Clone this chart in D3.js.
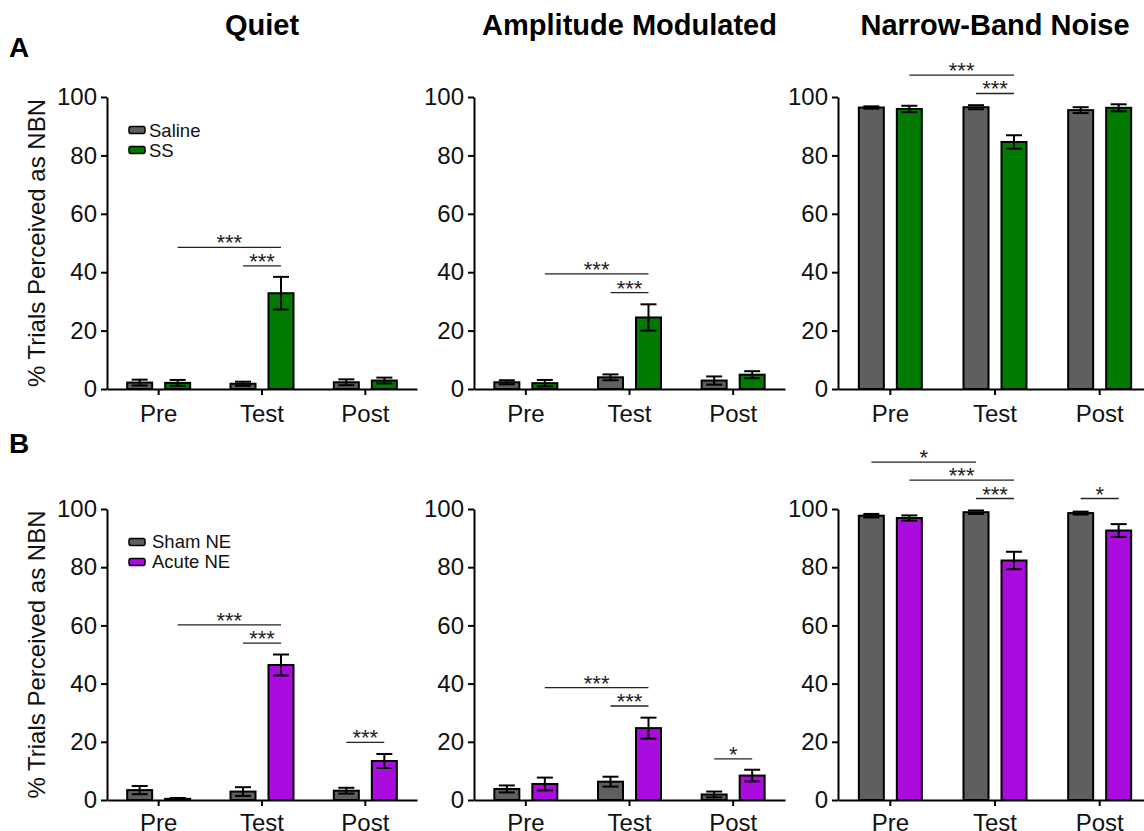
<!DOCTYPE html>
<html>
<head>
<meta charset="utf-8">
<script src="https://cdn.jsdelivr.net/npm/d3@7"></script>
<style>
  body { margin: 0; background: #fff; }
  svg { display: block; font-family: "Liberation Sans", Arial, sans-serif; }
</style>
</head>
<body>
<svg id="chart" width="1144" height="831"></svg>
<script>
// data
const categories = ["Pre", "Test", "Post"];
const conditions = ["Quiet", "Amplitude Modulated", "Narrow-Band Noise"];
const rowLabels = ["A", "B"];
const seriesA = ["Saline", "SS"];
const seriesB = ["Sham NE", "Acute NE"];
const yTicks = [0, 20, 40, 60, 80, 100];

// one inner array per condition (Quiet, AM, NBN), values per Pre/Test/Post
const salineMean = [[2.2, 1.8, 2.3], [2.3, 4.0, 2.9], [96.4, 96.5, 95.5]];
const salineErr = [[1.0, 0.7, 1.0], [0.7, 1.0, 1.4], [0.4, 0.7, 1.0]];
const ssMean = [[2.1, 32.8, 2.9], [2.0, 24.5, 4.9], [95.9, 84.6, 96.3]];
const ssErr = [[1.0, 5.6, 1.0], [1.1, 4.5, 1.2], [1.1, 2.3, 1.2]];

const shamMean = [[3.4, 2.9, 3.2], [3.8, 6.3, 1.9], [97.7, 98.9, 98.6]];
const shamErr = [[1.4, 1.5, 1.0], [1.2, 1.7, 1.0], [0.6, 0.6, 0.5]];
const acuteMean = [[0.4, 46.4, 13.4], [5.5, 24.7, 8.4], [96.9, 82.3, 92.6]];
const acuteErr = [[0.3, 3.6, 2.4], [2.2, 3.6, 2.0], [0.9, 3.0, 2.2]];

// significance brackets: [category, series] -> [category, series], height in % units
const sigA = [
  [{ from: [0, 1], to: [1, 1], level: 48.5, label: "***" },
   { from: [1, 0], to: [1, 1], level: 42.2, label: "***" }],
  [{ from: [0, 1], to: [1, 1], level: 39.4, label: "***" },
   { from: [1, 0], to: [1, 1], level: 33.0, label: "***" }],
  [{ from: [0, 1], to: [1, 1], level: 107.5, label: "***" },
   { from: [1, 0], to: [1, 1], level: 101.2, label: "***" }]
];
const sigB = [
  [{ from: [0, 1], to: [1, 1], level: 60.2, label: "***" },
   { from: [1, 0], to: [1, 1], level: 53.9, label: "***" },
   { from: [2, 0], to: [2, 1], level: 19.8, label: "***" }],
  [{ from: [0, 1], to: [1, 1], level: 38.6, label: "***" },
   { from: [1, 0], to: [1, 1], level: 32.3, label: "***" },
   { from: [2, 0], to: [2, 1], level: 14.1, label: "*" }],
  [{ from: [0, 0], to: [1, 0], level: 116.1, label: "*" },
   { from: [0, 1], to: [1, 1], level: 109.9, label: "***" },
   { from: [1, 0], to: [1, 1], level: 103.6, label: "***" },
   { from: [2, 0], to: [2, 1], level: 103.6, label: "*" }]
];

const gray = "#5f5f5f";
const green = "#007a00";
const purple = "#a90cdd";

// layout
const panelLeft = [107, 474, 838];
const panelWidth = [310, 311, 314];
const rowY = [[389, 97], [800, 509]]; // [y of 0, y of 100]
const xPad = [10, 8];
const barW = 25;
const barOffset = 19;
const capW = 16;

const svg = d3.select("#chart");

// column titles
svg.selectAll("text.title")
  .data(conditions)
  .join("text")
  .attr("class", "title")
  .attr("x", (d, i) => panelLeft[i] + panelWidth[i] / 2)
  .attr("y", 35)
  .attr("text-anchor", "middle")
  .style("font-weight", "bold")
  .style("font-size", "29px")
  .text((d) => d);

// row letters
svg.selectAll("text.rowlab")
  .data(rowLabels)
  .join("text")
  .attr("class", "rowlab")
  .attr("x", 9)
  .attr("y", (d, i) => (i === 0 ? 57 : 453))
  .style("font-weight", "bold")
  .style("font-size", "28px")
  .text((d) => d);

const rows = [
  { means: [salineMean, ssMean], errs: [salineErr, ssErr], colors: [gray, green], names: seriesA, sig: sigA },
  { means: [shamMean, acuteMean], errs: [shamErr, acuteErr], colors: [gray, purple], names: seriesB, sig: sigB }
];

rows.forEach((row, r) => {
  const y = d3.scaleLinear().domain([0, 100]).range(rowY[r]);

  conditions.forEach((cond, c) => {
    const g = svg.append("g");
    const x = d3.scaleBand()
      .domain(categories)
      .range([panelLeft[c], panelLeft[c] + panelWidth[c]])
      .padding(0);
    const xs = d3.scalePoint().domain([0, 1]).range([-barOffset, barOffset]);
    const cx = (ci, si) => x(categories[ci]) + x.bandwidth() / 2 + xs(si);

    // bars
    const bars = [];
    categories.forEach((cat, ci) => {
      [0, 1].forEach((si) => {
        bars.push({ ci, si, v: row.means[si][c][ci], e: row.errs[si][c][ci] });
      });
    });

    g.append("g")
      .selectAll("rect")
      .data(bars)
      .join("rect")
      .attr("x", (d) => cx(d.ci, d.si) - barW / 2)
      .attr("y", (d) => y(d.v))
      .attr("width", barW)
      .attr("height", (d) => y(0) - y(d.v))
      .attr("fill", (d) => row.colors[d.si])
      .attr("stroke", "#000")
      .attr("stroke-width", 2);

    // error bars
    const eb = g.append("g")
      .attr("stroke", "#000")
      .attr("stroke-width", 2)
      .selectAll("g")
      .data(bars)
      .join("g");
    eb.append("line")
      .attr("x1", (d) => cx(d.ci, d.si))
      .attr("x2", (d) => cx(d.ci, d.si))
      .attr("y1", (d) => y(d.v - d.e))
      .attr("y2", (d) => y(d.v + d.e));
    eb.append("line")
      .attr("x1", (d) => cx(d.ci, d.si) - capW / 2)
      .attr("x2", (d) => cx(d.ci, d.si) + capW / 2)
      .attr("y1", (d) => y(d.v + d.e))
      .attr("y2", (d) => y(d.v + d.e));
    eb.append("line")
      .attr("x1", (d) => cx(d.ci, d.si) - capW / 2)
      .attr("x2", (d) => cx(d.ci, d.si) + capW / 2)
      .attr("y1", (d) => y(Math.max(0, d.v - d.e)))
      .attr("y2", (d) => y(Math.max(0, d.v - d.e)));

    // axes
    const yAxis = g.append("g")
      .attr("transform", `translate(${panelLeft[c]},0)`)
      .call(d3.axisLeft(y).tickValues(yTicks).tickSize(6).tickSizeOuter(0).tickPadding(4));
    const xAxis = g.append("g")
      .attr("transform", `translate(0,${y(0)})`)
      .call(d3.axisBottom(x).tickSize(6).tickSizeOuter(0).tickPadding(xPad[r]));
    [yAxis, xAxis].forEach((ax) => {
      ax.select(".domain").attr("stroke", "#000").attr("stroke-width", 2);
      ax.selectAll(".tick line").attr("stroke", "#000").attr("stroke-width", 2);
      ax.selectAll(".tick text")
        .attr("fill", "#111")
        .style("font-size", "24px")
        .style("font-family", "'Liberation Sans', Arial, sans-serif");
    });

    // significance brackets
    const sg = g.append("g").selectAll("g").data(row.sig[c]).join("g");
    sg.append("line")
      .attr("x1", (d) => cx(d.from[0], d.from[1]))
      .attr("x2", (d) => cx(d.to[0], d.to[1]))
      .attr("y1", (d) => y(d.level))
      .attr("y2", (d) => y(d.level))
      .attr("stroke", "#222")
      .attr("stroke-width", 1.3);
    sg.append("text")
      .attr("x", (d) => (cx(d.from[0], d.from[1]) + cx(d.to[0], d.to[1])) / 2)
      .attr("y", (d) => y(d.level) + 3)
      .attr("text-anchor", "middle")
      .attr("fill", "#222")
      .style("font-size", "22px")
      .text((d) => d.label);

    if (c === 0) {
      // y label
      svg.append("text")
        .attr("transform", `translate(45,${(rowY[r][0] + rowY[r][1]) / 2}) rotate(-90)`)
        .attr("text-anchor", "middle")
        .attr("fill", "#111")
        .style("font-size", "24px")
        .text("% Trials Perceived as NBN");

      // legend
      const lg = g.append("g")
        .attr("transform", `translate(${panelLeft[c] + 22},${y(88.5)})`);
      const items = lg.selectAll("g").data(row.names).join("g")
        .attr("transform", (d, i) => `translate(0,${i * 20})`);
      items.append("rect")
        .attr("x", 0).attr("y", -4)
        .attr("width", 16).attr("height", 7)
        .attr("rx", 2)
        .attr("fill", (d, i) => row.colors[i])
        .attr("stroke", "#000")
        .attr("stroke-width", 1.5);
      items.append("text")
        .attr("x", r === 0 ? 20 : 23)
        .attr("y", 6)
        .attr("fill", "#111")
        .style("font-size", "18.5px")
        .text((d) => d);
    }
  });
});
</script>
</body>
</html>
